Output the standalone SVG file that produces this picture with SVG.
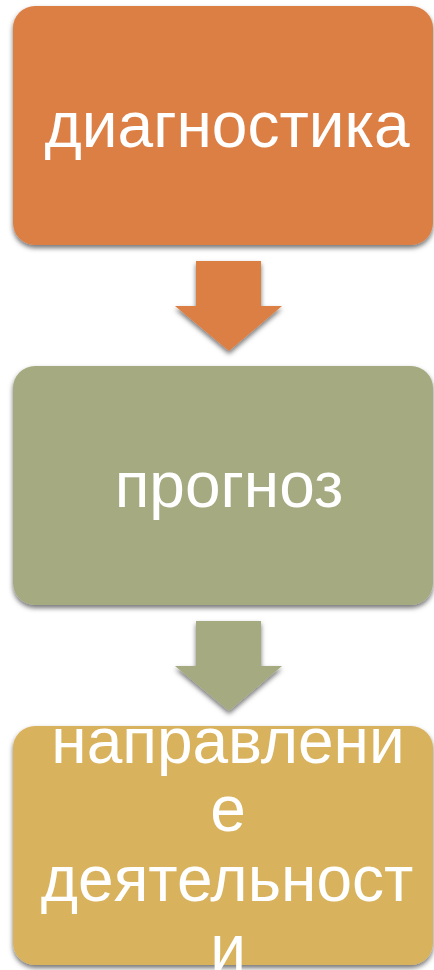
<svg xmlns="http://www.w3.org/2000/svg" width="434" height="970" viewBox="0 0 434 970">
<style>
.lbl{font-family:"Liberation Sans",Arial,sans-serif;font-size:64px;fill:#ffffff;text-anchor:middle}
</style>
<defs>
<filter id="sh" x="-10%" y="-10%" width="120%" height="130%">
<feDropShadow dx="0" dy="3" stdDeviation="2.5" flood-color="#000" flood-opacity="0.55"/>
</filter>
</defs>
<rect width="434" height="970" fill="#ffffff"/>
<g id="connectors">
<path d="M196,261 H261 V306 H282 L229,351 L175,306 H196 Z" fill="#DC7F45" filter="url(#sh)"/>
<path d="M196,621 H261 V666 H282 L229,711 L175,666 H196 Z" fill="#A5AA81" filter="url(#sh)"/>
</g>
<g id="n1">
<rect x="13" y="6" width="420" height="239" rx="22" fill="#DC7F45" filter="url(#sh)"/>
<text class="lbl" x="227" y="147">диагностика</text>
</g>
<g id="n2">
<rect x="13" y="366" width="420" height="239" rx="22" fill="#A5AA81" filter="url(#sh)"/>
<text class="lbl" x="229" y="507">прогноз</text>
</g>
<g id="n3">
<rect x="13" y="726" width="420" height="239" rx="22" fill="#D8B25B" filter="url(#sh)"/>
<text class="lbl" x="228" y="763">направлени</text>
<text class="lbl" x="228" y="831">е</text>
<text class="lbl" x="227" y="901">деятельност</text>
<text class="lbl" x="228" y="970">и</text>
</g>
</svg>
